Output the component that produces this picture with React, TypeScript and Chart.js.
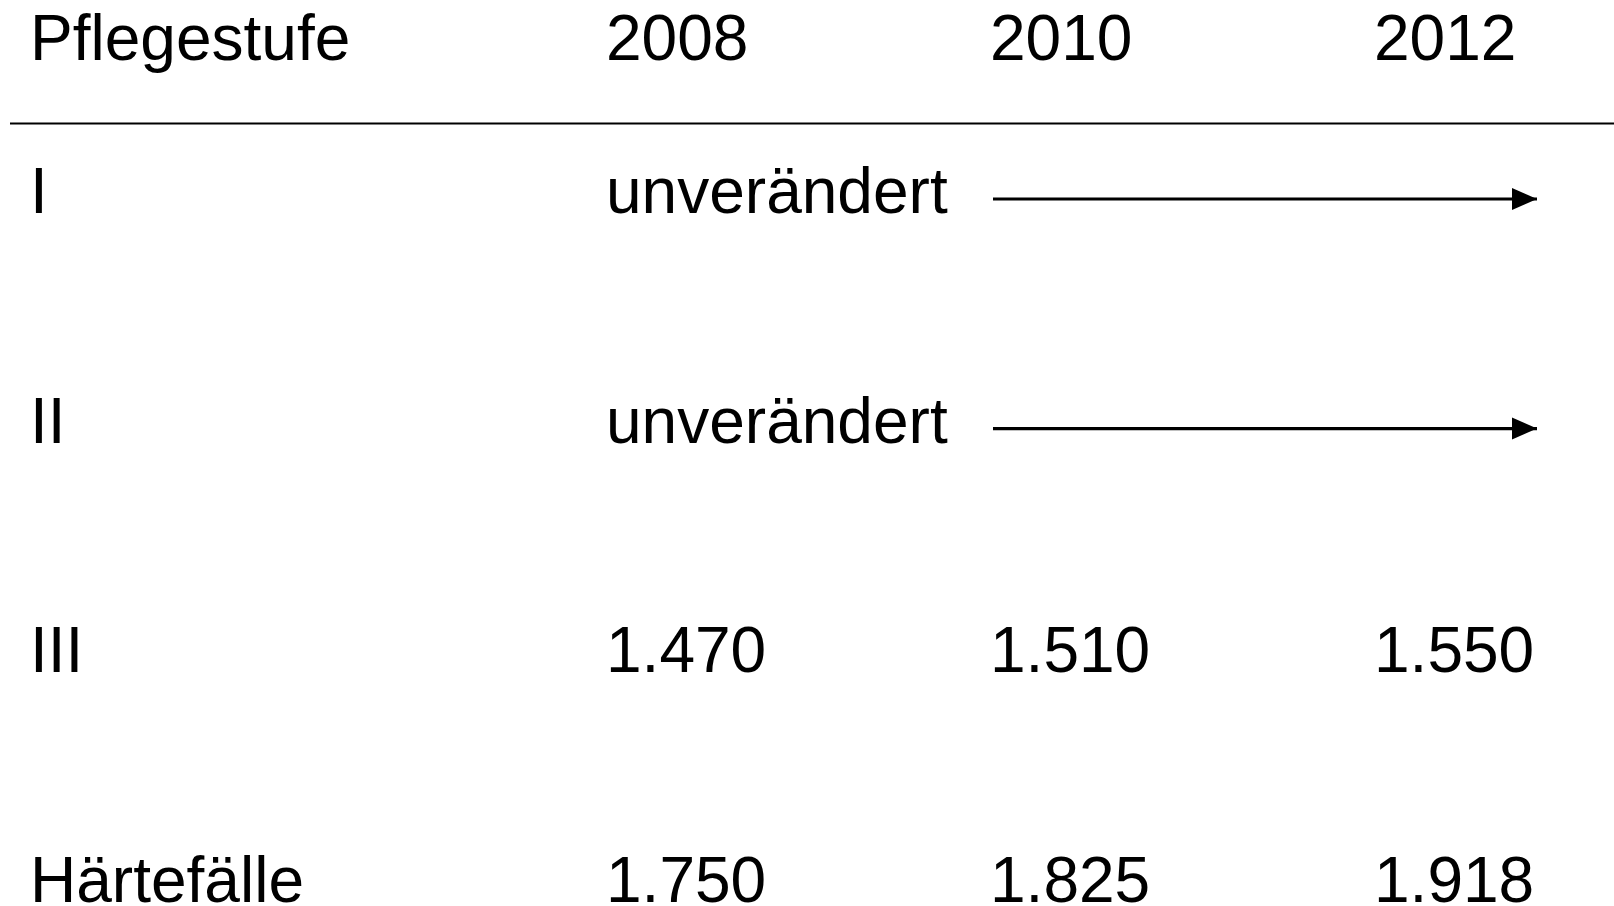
import React, { useEffect, useRef } from "react";
import { Chart, registerables } from "chart.js";

Chart.register(...registerables);

// ---- data ----
const stubHeader = "Pflegestufe";
const years = ["2008", "2010", "2012"];
const rowLabels = ["I", "II", "III", "Härtefälle"];
const values2008: (number | null)[] = [null, null, 1470, 1750];
const values2010: (number | null)[] = [null, null, 1510, 1825];
const values2012: (number | null)[] = [null, null, 1550, 1918];
const unchangedText = "unverändert";
const unchangedRows = [0, 1];

// ---- layout (pixels) ----
const W = 1614;
const H = 906;
const COL_STEP = 384; // px between year columns
const FIRST_YEAR_X = 606; // px of first year column
const STUB_COL = -0.5; // stub column in column units
const ROW_STEP = 229.6;
const FIRST_ROW_Y = 213; // baseline of first row
const HEADER_Y = 60; // baseline of header
const RULE_Y = 123.5;
const RULE_X0 = 10;
const ARROW_END_X = 1539;
const ARROW_START_OFFSET = 6; // px right of the column start
const ARROW_RAISE = 14; // px above baseline
const FONT = '65px "Liberation Sans", Arial, sans-serif';
const FONT_SCALE_X = 0.985;

const xOrigin = FIRST_YEAR_X - COL_STEP; // pixel for x=0
const xMin = -xOrigin / COL_STEP;
const xMax = (W - xOrigin) / COL_STEP;
const yOrigin = FIRST_ROW_Y - ROW_STEP; // pixel for y=0
const yMin = -yOrigin / ROW_STEP;
const yMax = (H - yOrigin) / ROW_STEP;
const toXv = (px: number) => (px - xOrigin) / COL_STEP;
const toYv = (px: number) => (px - yOrigin) / ROW_STEP;

const yearValues = [values2008, values2010, values2012];
const fmt = (v: number) => {
  const s = String(Math.round(v));
  return s.replace(/\B(?=(\d{3})+(?!\d))/g, ".");
};

const tablePlugin = {
  id: "tableText",
  afterDatasetsDraw(chart: any) {
    const { ctx, scales } = chart;
    const xs = scales.x;
    const ys = scales.y;
    const text = (t: string, x: number, y: number) => {
      ctx.save();
      ctx.translate(x, y);
      ctx.scale(FONT_SCALE_X, 1);
      ctx.fillText(t, 0, 0);
      ctx.restore();
    };
    ctx.save();
    ctx.fillStyle = "#000";
    ctx.font = FONT;
    ctx.textAlign = "left";
    ctx.textBaseline = "alphabetic";
    const hy = ys.getPixelForValue(toYv(HEADER_Y));
    text(stubHeader, xs.getPixelForValue(STUB_COL), hy);
    years.forEach((yr, i) => text(yr, xs.getPixelForValue(i + 1), hy));
    rowLabels.forEach((lab, r) => {
      const py = ys.getPixelForValue(r + 1);
      text(lab, xs.getPixelForValue(STUB_COL), py);
      if (unchangedRows.includes(r)) {
        text(unchangedText, xs.getPixelForValue(1), py);
      }
      yearValues.forEach((arr, i) => {
        const v = arr[r];
        if (v != null) text(fmt(v), xs.getPixelForValue(i + 1), py);
      });
    });
    // arrow heads
    chart.data.datasets.forEach((ds: any, di: number) => {
      if (!ds.isArrow) return;
      const meta = chart.getDatasetMeta(di);
      const pts = meta.data;
      const tip = pts[pts.length - 1];
      ctx.beginPath();
      ctx.moveTo(tip.x, tip.y);
      ctx.lineTo(tip.x - 25, tip.y - 11);
      ctx.lineTo(tip.x - 25, tip.y + 11);
      ctx.closePath();
      ctx.fill();
    });
    ctx.restore();
  },
};

export default function App() {
  const ref = useRef<HTMLCanvasElement | null>(null);
  useEffect(() => {
    if (!ref.current) return;
    const arrowSets = unchangedRows.map((r) => ({
      isArrow: true,
      data: [
        { x: 2 + ARROW_START_OFFSET / COL_STEP - 3 / COL_STEP, y: r + 1 - ARROW_RAISE / ROW_STEP },
        { x: toXv(ARROW_END_X - 2), y: r + 1 - ARROW_RAISE / ROW_STEP },
      ],
      showLine: true,
      borderColor: "#000",
      borderWidth: 3.2,
      pointRadius: 0,
    }));
    const rule = {
      data: [
        { x: toXv(RULE_X0), y: toYv(RULE_Y) },
        { x: xMax, y: toYv(RULE_Y) },
      ],
      showLine: true,
      borderColor: "#000",
      borderWidth: 2,
      pointRadius: 0,
    };
    const chart = new Chart(ref.current, {
      type: "scatter",
      data: { datasets: [rule, ...arrowSets] as any },
      options: {
        animation: false,
        responsive: false,
        devicePixelRatio: 1,
        layout: { padding: 0 },
        plugins: { legend: { display: false }, tooltip: { enabled: false } },
        scales: {
          x: { type: "linear", display: false, min: xMin, max: xMax },
          y: { type: "linear", display: false, min: yMin, max: yMax, reverse: true },
        },
      },
      plugins: [tablePlugin],
    });
    return () => chart.destroy();
  }, []);
  return (
    <div style={{ position: "absolute", left: 0, top: 0, width: W, height: H, background: "#fff" }}>
      <canvas ref={ref} width={W} height={H} style={{ display: "block" }} />
    </div>
  );
}
